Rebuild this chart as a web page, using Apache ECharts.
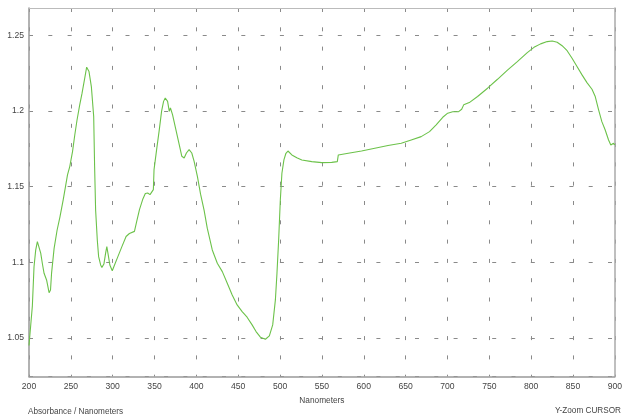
<!DOCTYPE html>
<html>
<head>
<meta charset="utf-8">
<script src="https://cdn.jsdelivr.net/npm/echarts@6/dist/echarts.min.js"></script>
<style>html,body{margin:0;padding:0;background:#fff}#c{width:625px;height:415px}</style>
</head>
<body>
<div id="c"></div>
<script>
const wavelengths = [200,202,204,206,208,210,212,214,216,218,221,224,225.7,227,230,233.6,237,240.8,243.6,246,248.7,252,254.7,257.4,260.6,263.4,266.6,268.9,271.7,274.5,277.3,278.4,279.6,281.6,283.2,285.6,287.1,289.5,291.5,293,295,296.6,299.5,302.2,306.2,311,316,320,326,328.7,332,335.8,339,341.8,344.6,346.6,348.6,349.4,350.6,352.5,355.7,358.4,360.8,362.8,365.6,367.6,369,371.5,375.5,379.5,382.6,385.4,388.1,391.3,394.5,397.3,401.2,405,409.2,413,419,425,431,436.9,442.8,448.7,454.7,460.6,466.6,471.3,476.5,482.5,487.2,491.2,494.4,496.3,498.3,500.3,502.2,504.6,507,509.4,514.1,520,526,537.9,549.8,561.7,568.4,569.6,581.5,597.3,613.2,629,644.8,656.7,668.6,678.6,686.5,694.4,700.3,706.3,713,717,719.4,726.1,736,747.9,759.8,771.7,783.5,795.4,803.4,811.3,819.2,825.2,831.1,837,843,848.9,854.8,860.8,866.7,872.7,876.6,880.6,884.5,888.5,892.5,895.2,896.8,898.4,900];
const absorbance = [1.045,1.058,1.071,1.097,1.108,1.1136,1.1125,1.106,1.099,1.0927,1.0883,1.0799,1.0817,1.093,1.1092,1.1213,1.130,1.1411,1.150,1.1577,1.1632,1.1731,1.1841,1.194,1.204,1.2117,1.2216,1.2289,1.226,1.2161,1.1963,1.1632,1.1345,1.1147,1.1037,1.0982,1.0966,1.0988,1.1059,1.1103,1.1037,1.0982,1.0944,1.0982,1.1037,1.1103,1.117,1.119,1.1204,1.127,1.1348,1.1414,1.1454,1.1458,1.1447,1.1458,1.148,1.1612,1.1612,1.1744,1.1876,1.1997,1.2063,1.2085,1.2063,1.1997,1.2019,1.1975,1.1876,1.1777,1.1700,1.1689,1.1722,1.1744,1.1722,1.1667,1.1568,1.145,1.1345,1.1225,1.1081,1.0993,1.0938,1.0861,1.0784,1.0718,1.0674,1.0637,1.0586,1.0542,1.0505,1.0491,1.0513,1.0586,1.0751,1.0927,1.1147,1.1411,1.1588,1.1676,1.1720,1.1735,1.1709,1.1690,1.1676,1.1665,1.1658,1.166,1.1665,1.1709,1.172,1.1735,1.1753,1.1771,1.1786,1.1808,1.183,1.1863,1.1908,1.1958,1.1985,1.1994,1.1994,1.2011,1.204,1.2055,1.2095,1.215,1.2209,1.227,1.2326,1.2385,1.242,1.2443,1.2458,1.2462,1.2454,1.2431,1.2398,1.2348,1.2293,1.2238,1.2187,1.2143,1.2095,1.2007,1.1929,1.1874,1.1808,1.1775,1.1764,1.1786,1.1775];
const xTitle = 'Nanometers';
const footLeft = 'Absorbance / Nanometers';
const footRight = 'Y-Zoom CURSOR';

const data = wavelengths.map((w, i) => [w, absorbance[i]]);
const chart = echarts.init(document.getElementById('c'), null, {renderer: 'canvas'});
const gridDash = {color: '#8a8a8a', width: 1, type: [4, 15.3]};
const labelFont = {color: '#444', fontSize: 8.6, fontFamily: 'Liberation Sans, Arial, sans-serif'};
chart.setOption({
  animation: false,
  grid: {left: 29, right: 7, top: 8, bottom: 38.5, containLabel: false},
  xAxis: [{
    type: 'value', min: 200, max: 900, interval: 50,
    name: xTitle, nameLocation: 'middle', nameGap: 18,
    nameTextStyle: {color: '#444', fontSize: 8.3, fontFamily: 'Liberation Sans, Arial, sans-serif'},
    axisLine: {show: true, lineStyle: {color: '#999', width: 1.5}},
    axisTick: {show: false},
    axisLabel: Object.assign({margin: 6}, labelFont),
    splitLine: {show: true, lineStyle: gridDash}
  }, {
    type: 'value', position: 'top', min: 200, max: 900, interval: 50,
    axisLine: {show: true, lineStyle: {color: '#bbb', width: 1}},
    axisTick: {show: false}, axisLabel: {show: false}, splitLine: {show: false}
  }],
  yAxis: [{
    type: 'value', min: 1.0245, max: 1.268, minInterval: 0.05, maxInterval: 0.05,
    axisLine: {show: true, lineStyle: {color: '#999', width: 1.5}},
    axisTick: {show: false},
    axisLabel: Object.assign({margin: 5, showMinLabel: false, showMaxLabel: false}, labelFont),
    splitLine: {show: true, lineStyle: gridDash}
  }, {
    type: 'value', position: 'right', min: 1.0245, max: 1.268,
    axisLine: {show: true, lineStyle: {color: '#aaa', width: 1.5}},
    axisTick: {show: false}, axisLabel: {show: false}, splitLine: {show: false}
  }],
  graphic: [
    {type: 'text', left: 28, top: 407.5, style: {text: footLeft, fill: '#444', fontSize: 8.2, fontFamily: 'Liberation Sans, Arial, sans-serif'}},
    {type: 'text', right: 4, top: 406.5, style: {text: footRight, fill: '#444', fontSize: 8.2, fontFamily: 'Liberation Sans, Arial, sans-serif'}}
  ],
  series: [{
    type: 'line', data: data, xAxisIndex: 0, yAxisIndex: 0,
    showSymbol: false, smooth: false,
    lineStyle: {color: '#6cc24a', width: 1.1},
    z: 5
  }]
});
</script>
</body>
</html>
